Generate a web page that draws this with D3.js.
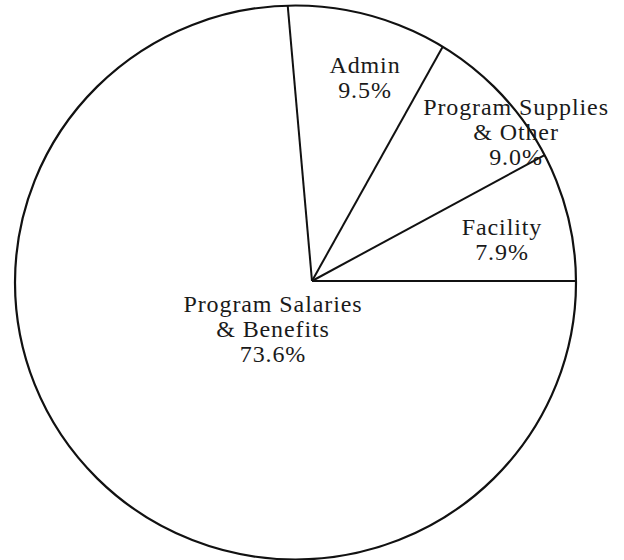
<!DOCTYPE html>
<html>
<head>
<meta charset="utf-8">
<script src="https://cdn.jsdelivr.net/npm/d3@7"></script>
<style>
  html, body { margin: 0; padding: 0; background: #fff; }
  svg { display: block; }
</style>
</head>
<body>
<svg id="chart" width="624" height="560"></svg>
<script>
// slice data, clockwise from the Admin wedge
const categories = ['Admin', 'Program Supplies & Other', 'Facility', 'Program Salaries & Benefits']
const values = [9.5, 9.0, 7.9, 73.6]
const labelLines = [
  ['Admin', '9.5%'],
  ['Program Supplies', '& Other', '9.0%'],
  ['Facility', '7.9%'],
  ['Program Salaries', '& Benefits', '73.6%']
]

// label anchor offsets from the pie centre (layout only)
const labelOffsets = [[53, -208], [204, -166], [190, -46], [-39, 31]]

const width = 624
const height = 560
// the hand-drawn outline is slightly off from the point the wedges meet at
const cx = 312, cy = 281
const ecx = 295.5, ecy = 282.5, rx = 280.5, ry = 277

const svg = d3.select('#chart')

const total = d3.sum(values)
// Facility must end exactly at 3 o'clock
const start = Math.PI / 2 - 2 * Math.PI * d3.sum(values.slice(0, 3)) / total

const pie = d3.pie().sort(null).value(d => d)
  .startAngle(start).endAngle(start + 2 * Math.PI)
const arcs = pie(values)

// outline
svg.append('ellipse')
  .attr('cx', ecx).attr('cy', ecy)
  .attr('rx', rx).attr('ry', ry)
  .attr('fill', '#fff')
  .attr('stroke', '#111')
  .attr('stroke-width', 2.2)

// ray from pie centre to the outline
function edgePoint(angle) {
  const dx = Math.sin(angle), dy = -Math.cos(angle)
  const px = (cx - ecx) / rx, py = (cy - ecy) / ry
  const ux = dx / rx, uy = dy / ry
  const a = ux * ux + uy * uy
  const b = 2 * (px * ux + py * uy)
  const c = px * px + py * py - 1
  const t = (-b + Math.sqrt(b * b - 4 * a * c)) / (2 * a)
  return [cx + t * dx, cy + t * dy]
}

svg.append('g')
  .selectAll('line')
  .data(arcs)
  .join('line')
  .attr('x1', cx).attr('y1', cy)
  .attr('x2', d => edgePoint(d.startAngle)[0])
  .attr('y2', d => edgePoint(d.startAngle)[1])
  .attr('stroke', '#111')
  .attr('stroke-width', 2)

const fontSize = 24
const lineH = 25

const labels = svg.append('g')
  .attr('font-family', '"Liberation Serif", "DejaVu Serif", serif')
  .attr('font-size', fontSize)
  .attr('letter-spacing', 0.9)
  .attr('fill', '#1a1a1a')
  .attr('text-anchor', 'middle')
  .selectAll('text')
  .data(arcs)
  .join('text')
  .attr('transform', (d, i) => `translate(${cx + labelOffsets[i][0]},${cy + labelOffsets[i][1]})`)

labels.selectAll('tspan')
  .data((d, i) => labelLines[i])
  .join('tspan')
  .attr('x', 0)
  .attr('y', (d, j) => j * lineH)
  .text(d => d)
</script>
</body>
</html>
